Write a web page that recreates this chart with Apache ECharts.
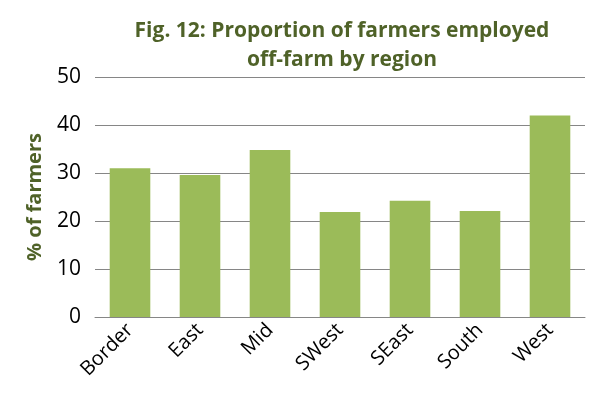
<!DOCTYPE html>
<html>
<head>
<meta charset="utf-8">
<script src="https://cdn.jsdelivr.net/npm/echarts@6/dist/echarts.min.js"></script>
<style>html,body{margin:0;padding:0;background:#fff}#chart{width:590px;height:415px}</style>
</head>
<body>
<div id="chart"></div>
<script>
var regions = ['Border', 'East', 'Mid', 'SWest', 'SEast', 'South', 'West'];
var shareEmployed = [31.0, 29.6, 34.8, 21.9, 24.2, 22.1, 42.0];

var chart = echarts.init(document.getElementById('chart'));
chart.setOption({
    title: {
        text: 'Fig. 12: Proportion of farmers employed\noff-farm by region',
        left: 337, top: 12, textAlign: 'center',
        textStyle: { fontFamily: 'Open Sans', fontWeight: 'bold', fontSize: 21, color: '#4f6228', lineHeight: 29 }
    },
    grid: { left: 95, right: 5, top: 77, bottom: 98 },
    xAxis: {
        type: 'category',
        data: regions,
        axisTick: { show: false },
        axisLine: { lineStyle: { color: '#868686' } },
        axisLabel: { rotate: 45, fontFamily: 'Open Sans', fontSize: 20, color: '#000', margin: 10 }
    },
    yAxis: {
        type: 'value', min: 0, max: 50, interval: 10,
        name: '% of farmers', nameLocation: 'middle', nameGap: 50,
        nameTextStyle: { fontFamily: 'Open Sans', fontWeight: 'bold', fontSize: 20, color: '#4f6228' },
        axisLine: { show: false }, axisTick: { show: false },
        splitLine: { lineStyle: { color: '#868686' } },
        axisLabel: { fontFamily: 'Open Sans', fontSize: 21, color: '#000', margin: 14 }
    },
    series: [{
        type: 'bar', data: shareEmployed, barWidth: '58%',
        itemStyle: { color: '#9bbb59' }
    }]
});
</script>
</body>
</html>
